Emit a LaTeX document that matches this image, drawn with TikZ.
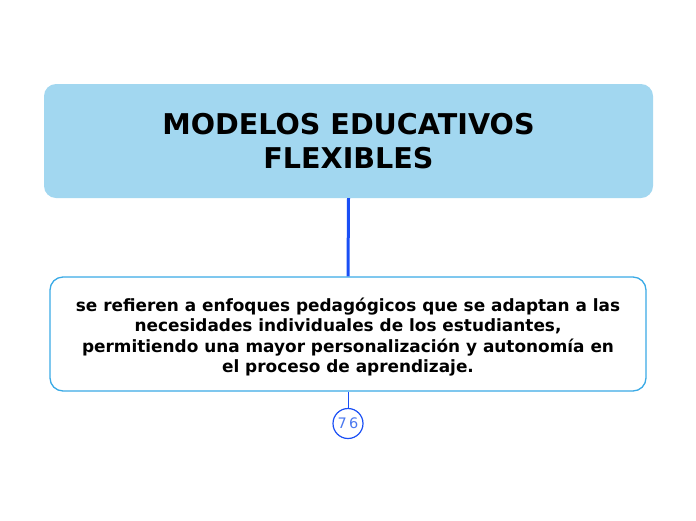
\documentclass[tikz,border=0pt]{standalone}
\usepackage{fontspec}
\setmainfont{DejaVu Sans}
\definecolor{titlefill}{HTML}{A2D7F0}
\definecolor{boxline}{HTML}{3AAAE6}
\definecolor{linkblue}{HTML}{1A4FF5}
\definecolor{numblue}{HTML}{4A78F0}
\begin{document}
\begin{tikzpicture}[x=1pt,y=-1pt,
  titlebox/.style={fill=titlefill,draw=none,rounded corners=12pt,minimum width=609pt,minimum height=114pt,align=center,inner sep=0pt,font=\fontsize{28.6}{34}\selectfont\bfseries},
  textbox/.style={fill=white,draw=boxline,line width=1.3pt,rounded corners=13pt,minimum width=596pt,minimum height=114pt,inner sep=0pt},
  bodytext/.style={align=center,inner sep=0pt,font=\fontsize{16.9}{20.5}\selectfont\bfseries},
  countbubble/.style={circle,draw=linkblue,line width=1.2pt,fill=white,minimum size=30pt,inner sep=0pt,text=numblue,font=\fontsize{14.5}{14.5}\selectfont}]
\useasboundingbox (0,0) rectangle (696,520);
\node[titlebox] (title) at (348.5,141) {MODELOS EDUCATIVOS\\FLEXIBLES};
\node[textbox] (desc) at (348,334) {};
\node[bodytext] (desctext) at (348,337) {se refieren a enfoques pedagógicos que se adaptan a las\\necesidades individuales de los estudiantes,\\permitiendo una mayor personalización y autonomía en\\el proceso de aprendizaje.};
\node[countbubble] (count) at (348,423.5) {7\,6};
\draw[linkblue,line width=3pt] (title.south) -- (desc.north);
\draw[linkblue,line width=1pt] (desc.south) -- (count.north);
\end{tikzpicture}
\end{document}
